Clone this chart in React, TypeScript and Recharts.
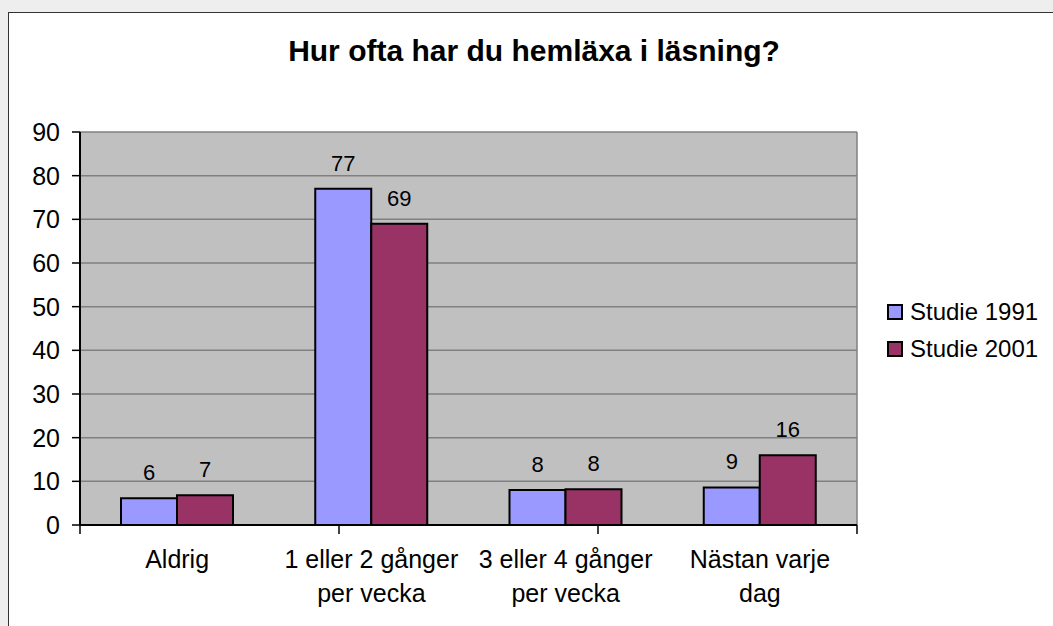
import React from "react";
import { Bar, BarChart, CartesianGrid, LabelList, Legend, XAxis, YAxis } from "recharts";

const categories = [
  "Aldrig",
  "1 eller 2 gånger\nper vecka",
  "3 eller 4 gånger\nper vecka",
  "Nästan varje\ndag",
];
const studie1991 = [6.1, 77, 8, 8.6];
const studie2001 = [6.8, 69, 8.2, 16];
const seriesNames = ["Studie 1991", "Studie 2001"];
const seriesColors = ["#9999ff", "#993366"];
const yTicks = [0, 10, 20, 30, 40, 50, 60, 70, 80, 90];
const edgeTicks = [0, 1, 2, 3, 4];

const data = categories.map((name, i) => ({
  name,
  s1991: studie1991[i],
  s2001: studie2001[i],
}));

const font = "'Liberation Sans', Arial, sans-serif";

const CategoryTick = (props: any) => {
  const { x, y, payload } = props;
  const lines = String(payload.value).split("\n");
  return (
    <text x={x} y={y} textAnchor="middle" fill="#000" fontSize={25} fontFamily={font}>
      {lines.map((line, i) => (
        <tspan key={i} x={x} dy={i === 0 ? 42 : 34}>
          {line}
        </tspan>
      ))}
    </text>
  );
};

const EmptyTick = () => <g />;

const renderLegend = () => (
  <div style={{ fontFamily: font, fontSize: 24, color: "#000" }}>
    {seriesNames.map((n, i) => (
      <div key={n} style={{ display: "flex", alignItems: "center", height: 37 }}>
        <span
          style={{
            display: "inline-block",
            width: 12,
            height: 12,
            border: "2px solid #000",
            background: seriesColors[i],
            marginRight: 7,
          }}
        />
        <span>{n}</span>
      </div>
    ))}
  </div>
);

export default function App() {
  return (
    <div
      style={{
        position: "absolute",
        left: 0,
        top: 0,
        width: 1053,
        height: 626,
        background: "#eeeeee",
        overflow: "hidden",
      }}
    >
      <div
        style={{
          position: "absolute",
          left: 8,
          top: 12,
          width: 1060,
          height: 630,
          background: "#fff",
          border: "1px solid #333",
        }}
      >
        <div
          style={{
            position: "absolute",
            left: 0,
            width: 1050,
            top: 23,
            textAlign: "center",
            fontFamily: font,
            fontWeight: "bold",
            fontSize: 30,
            lineHeight: "30px",
            color: "#000",
          }}
        >
          Hur ofta har du hemläxa i läsning?
        </div>
        <BarChart
          width={1045}
          height={614}
          data={data}
          margin={{ top: 119, right: 197, bottom: 0, left: 0 }}
          barGap={0}
        >
          <CartesianGrid
            xAxisId="cat"
            fill="#c0c0c0"
            fillOpacity={1}
            stroke="#808080"
            strokeWidth={1.5}
            verticalPoints={[848]}
          />
          {/* axis 0 only draws the baseline and the boundary ticks between categories */}
          <XAxis
            xAxisId={0}
            type="number"
            domain={[0, 4]}
            ticks={edgeTicks}
            allowDataOverflow
            tick={<EmptyTick />}
            tickSize={9}
            height={1}
            axisLine={{ stroke: "#000", strokeWidth: 2 }}
            tickLine={{ stroke: "#000", strokeWidth: 1.5 }}
          />
          <XAxis
            xAxisId="cat"
            dataKey="name"
            interval={0}
            height={101}
            axisLine={false}
            tickLine={false}
            tickSize={0}
            tickMargin={0}
            tick={<CategoryTick />}
          />
          <YAxis
            width={71}
            domain={[0, 90]}
            ticks={yTicks}
            interval={0}
            tickSize={8}
            tickMargin={12}
            axisLine={{ stroke: "#000", strokeWidth: 2 }}
            tickLine={{ stroke: "#000", strokeWidth: 1.5 }}
            tick={{ fill: "#000", fontSize: 25, fontFamily: font }}
          />
          <Legend
            layout="vertical"
            align="center"
            verticalAlign="middle"
            content={renderLegend}
            wrapperStyle={{ left: 878, top: 280, width: 170 }}
          />
          <Bar
            xAxisId="cat"
            dataKey="s1991"
            name={seriesNames[0]}
            fill={seriesColors[0]}
            stroke="#000"
            strokeWidth={2}
            barSize={56}
            isAnimationActive={false}
          >
            <LabelList
              dataKey="s1991"
              position="top"
              offset={18}
              fill="#000"
              fontSize={22}
              fontFamily={font}
              formatter={(v: any) => Math.round(Number(v))}
            />
          </Bar>
          <Bar
            xAxisId="cat"
            dataKey="s2001"
            name={seriesNames[1]}
            fill={seriesColors[1]}
            stroke="#000"
            strokeWidth={2}
            barSize={56}
            isAnimationActive={false}
          >
            <LabelList
              dataKey="s2001"
              position="top"
              offset={18}
              fill="#000"
              fontSize={22}
              fontFamily={font}
              formatter={(v: any) => Math.round(Number(v))}
            />
          </Bar>
        </BarChart>
      </div>
    </div>
  );
}
